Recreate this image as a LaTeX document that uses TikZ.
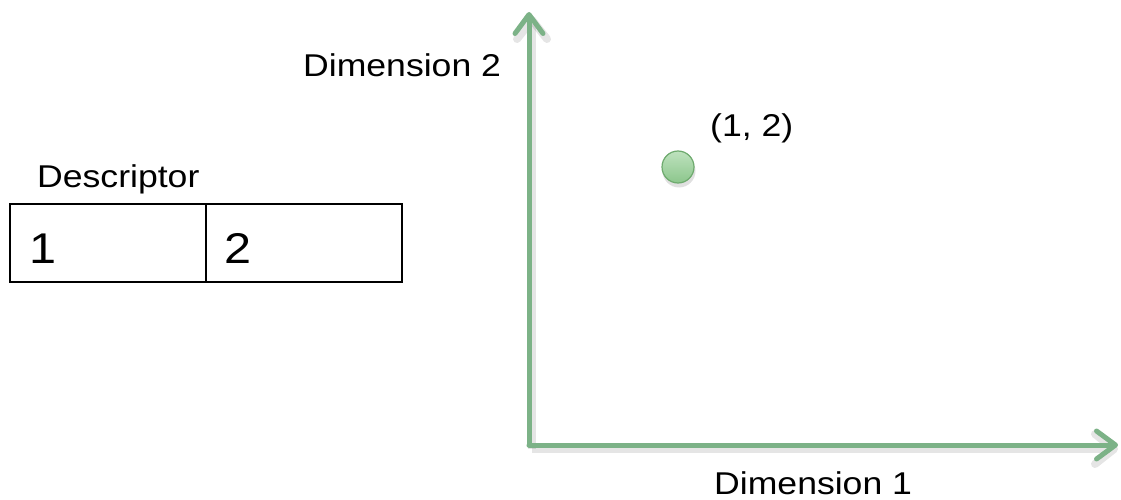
\documentclass[tikz,border=0pt]{standalone}
\usepackage{fontspec}
\setmainfont[FakeStretch=1.13]{Liberation Sans}
\usetikzlibrary{arrows.meta}
\definecolor{axisgreen}{RGB}{124,178,135}
\definecolor{dotfilltop}{RGB}{190,226,190}
\definecolor{dotfillbot}{RGB}{140,198,140}
\definecolor{dotedge}{RGB}{110,170,110}
\tikzset{
  lbl/.style={inner sep=0pt, anchor=base west, font=\fontsize{31.5}{38}\selectfont},
  celltext/.style={inner sep=0pt, anchor=base west, font=\fontsize{43}{50}\selectfont},
  axis/.style={draw=axisgreen, line width=5pt, -{Straight Barb[length=19pt, width=28pt, round]}},
  axisshadow/.style={draw=black, opacity=0.10, line width=8pt, -{Straight Barb[length=19pt, width=30pt, round]}},
}
\begin{document}
\begin{tikzpicture}[x=1pt,y=-1pt]
\useasboundingbox (0,0) rectangle (1121,500);
% descriptor
\node[lbl] (desc) at (37,187) {Descriptor};
\coordinate (bl) at (10,204);
\coordinate (bm) at (206,204);
\coordinate (bmb) at (206,282);
\coordinate (br) at (402,282);
\draw[line width=2pt] (bl) rectangle (br);
\draw[line width=2pt] (bm) -- (bmb);
\node[celltext] (c1) at (29,263) {1};
\node[celltext] (c2) at (224,263) {2};
% axes
\coordinate (o) at (529,445);
\coordinate (ytip) at (529,12);
\coordinate (xtip) at (1118,445);
\coordinate (os) at (532,449);
\coordinate (ys) at (532,16);
\coordinate (xs) at (1118,449);
\draw[axisshadow] (os) -- (ys);
\draw[axisshadow] (os) -- (xs);
\draw[axis, line cap=round] (o) -- (ytip);
\draw[axis, line cap=round] (o) -- (xtip);
\node[lbl] (d2) at (303,77) {Dimension 2};
\node[lbl] (d1) at (714,494) {Dimension 1};
% point
\fill[black, opacity=0.12] (679,171) circle (16.5pt);
\node[circle, minimum size=32pt, inner sep=0pt, draw=dotedge, line width=1.2pt, top color=dotfilltop, bottom color=dotfillbot] (pt) at (678,167) {};
\node[lbl] (pl) at (710,136) {(1, 2)};
\end{tikzpicture}
\end{document}
